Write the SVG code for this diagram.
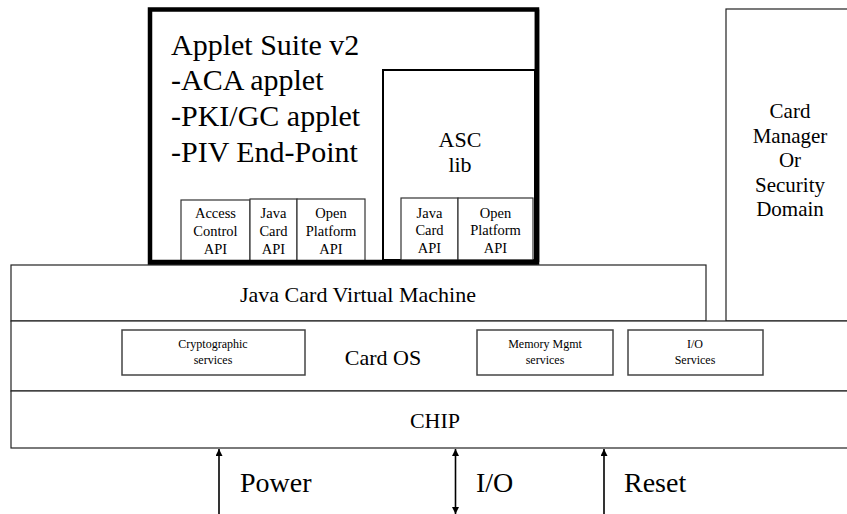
<svg xmlns="http://www.w3.org/2000/svg" width="847" height="514" viewBox="0 0 847 514">
<style>
text{font-family:"Liberation Serif","Times New Roman",serif;fill:#000;text-anchor:middle}
.box{fill:#fff;stroke:#222;stroke-width:1.2}
.svc{fill:#fff;stroke:#444;stroke-width:1.5}
.api{fill:#fff;stroke:#333;stroke-width:1.2}
.big{font-size:30px;text-anchor:start}
.sig{font-size:28px;text-anchor:start}
.lyr{font-size:22px}
.cm{font-size:21px}
.sm{font-size:14.5px}
.xs{font-size:12px}
.conn{stroke:#000;stroke-width:1.6;fill:none}
</style>
<defs>
<marker id="ah" viewBox="0 0 10 10" refX="10" refY="5" markerWidth="7" markerHeight="7" markerUnits="userSpaceOnUse" orient="auto-start-reverse">
<path d="M0,0 L10,5 L0,10 z" fill="#000"/>
</marker>
</defs>
<g id="card-manager">
<rect class="box" x="726" y="9" width="130" height="312"/>
<text class="cm"><tspan x="790" y="118">Card</tspan><tspan x="790" y="143">Manager</tspan><tspan x="790" y="167">Or</tspan><tspan x="790" y="192">Security</tspan><tspan x="790" y="216">Domain</tspan></text>
</g>
<g id="jcvm">
<rect class="box" x="11" y="265" width="695" height="56"/>
<text class="lyr" x="358" y="302">Java Card Virtual Machine</text>
</g>
<g id="card-os">
<rect class="box" x="11" y="321" width="845" height="70"/>
<text class="lyr" x="383" y="365">Card OS</text>
</g>
<g id="crypto">
<rect class="svc" x="122" y="330" width="183" height="45"/>
<text class="xs"><tspan x="213" y="348">Cryptographic</tspan><tspan x="213" y="364">services</tspan></text>
</g>
<g id="memory">
<rect class="svc" x="477" y="330" width="136" height="45"/>
<text class="xs"><tspan x="545" y="348">Memory Mgmt</tspan><tspan x="545" y="364">services</tspan></text>
</g>
<g id="io-services">
<rect class="svc" x="628" y="330" width="135" height="45"/>
<text class="xs"><tspan x="695" y="348">I/O</tspan><tspan x="695" y="364">Services</tspan></text>
</g>
<g id="chip">
<rect class="box" x="11" y="391" width="845" height="57"/>
<text class="lyr" x="435" y="428">CHIP</text>
</g>
<g id="applet-suite">
<rect x="150" y="9.5" width="387" height="253" fill="#fff" stroke="#000" stroke-width="4.5"/>
<text class="big"><tspan x="171" y="55">Applet Suite v2</tspan><tspan x="171" y="90">-ACA applet</tspan><tspan x="171" y="126">-PKI/GC applet</tspan><tspan x="171" y="162">-PIV End-Point</tspan></text>
</g>
<g id="api-access">
<rect class="api" x="181" y="200" width="69" height="61"/>
<text class="sm"><tspan x="215.5" y="218">Access</tspan><tspan x="215.5" y="236">Control</tspan><tspan x="215.5" y="254">API</tspan></text>
</g>
<g id="api-javacard-1">
<rect class="api" x="250" y="199" width="47" height="62"/>
<text class="sm"><tspan x="273.5" y="218">Java</tspan><tspan x="273.5" y="236">Card</tspan><tspan x="273.5" y="254">API</tspan></text>
</g>
<g id="api-openplatform-1">
<rect class="api" x="297" y="199" width="68" height="62"/>
<text class="sm"><tspan x="331" y="218">Open</tspan><tspan x="331" y="236">Platform</tspan><tspan x="331" y="254">API</tspan></text>
</g>
<g id="asc-lib">
<rect x="383" y="70" width="152" height="190" fill="#fff" stroke="#000" stroke-width="2"/>
<text class="lyr"><tspan x="460" y="147">ASC</tspan><tspan x="460" y="172">lib</tspan></text>
</g>
<g id="api-javacard-2">
<rect class="api" x="401" y="198" width="57" height="62"/>
<text class="sm"><tspan x="429.5" y="218">Java</tspan><tspan x="429.5" y="235">Card</tspan><tspan x="429.5" y="253">API</tspan></text>
</g>
<g id="api-openplatform-2">
<rect class="api" x="458" y="198" width="75" height="62"/>
<text class="sm"><tspan x="495.5" y="218">Open</tspan><tspan x="495.5" y="235">Platform</tspan><tspan x="495.5" y="253">API</tspan></text>
</g>
<line x1="150" y1="262" x2="537" y2="262" stroke="#000" stroke-width="4.5"/>
<line x1="537" y1="9.5" x2="537" y2="262" stroke="#000" stroke-width="4.5"/>
<g id="connectors">
<line class="conn" x1="219" y1="514" x2="219" y2="449" marker-end="url(#ah)"/>
<line class="conn" x1="455.5" y1="514" x2="455.5" y2="449" marker-end="url(#ah)" marker-start="url(#ah)"/>
<line class="conn" x1="604" y1="514" x2="604" y2="449" marker-end="url(#ah)"/>
</g>
<g id="signal-labels">
<text class="sig" x="240" y="492">Power</text>
<text class="sig" x="476" y="492">I/O</text>
<text class="sig" x="624" y="492">Reset</text>
</g>
</svg>
